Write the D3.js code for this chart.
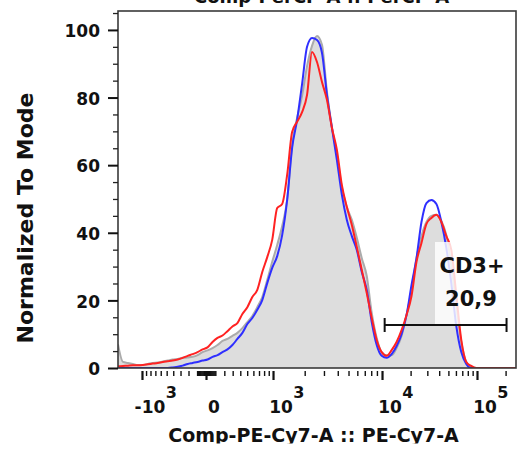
<!DOCTYPE html>
<html><head><meta charset="utf-8">
<script src="https://cdn.jsdelivr.net/npm/d3@7"></script>
<style>
body{margin:0;background:#fff;}
svg{display:block;}
text{font-family:"DejaVu Sans",sans-serif;font-weight:bold;fill:#111;}
</style>
</head><body><svg id="c" width="522" height="452"></svg>
<script>
// display channels (uniform histogram bins in logicle display space)
const channels = d3.range(0, 81);
const grayValues = [7,1.8,1.5,1.2,0.9,0.9,1.2,1.5,1.6,1.9,2.2,2.5,2.7,3.0,3.1,3.3,3.8,4.7,5.2,5.9,
  6.8,8.0,8.6,9.5,10.4,11.8,13.6,15.4,18,21,26,31.4,36.4,42,49.7,66,74,80.5,89.3,95.3,
  98.2,95.6,81.7,71.3,63,53.3,47.6,43.8,38.5,32.5,27.2,16.3,8.9,4.7,3.8,3.8,5.9,9.5,15.7,23.1,
  32.5,39,43.2,45,45.3,43.5,39.3,30.5,18.6,7.7,1.8,0.3,0,0,0,0,0,0,0,0,0];
const blueValues = [0,0,0,0,0,0,0,0,0,0,0,0.15,0.4,0.7,1.2,1.5,1.8,2.2,2.5,3.3,
  3.8,4.7,5.5,6.8,8.6,10.4,13,14.8,17.2,20.1,25.1,29.6,33.1,39.3,49.7,65.1,73.4,84,95,97.6,
  97,93.2,80.8,71,61.5,51.2,43.8,39,34.9,28.4,23.1,13.6,6.8,3.6,3.0,4.1,6.5,10,15.7,24.6,
  32.5,43.2,48.8,49.7,48.5,43.2,35.5,25,12.4,4.7,1.2,0,0,0,0,0,0,0,0,0,0];
const redValues = [0.5,0.6,0.7,0.8,0.8,0.9,1.1,1.3,1.5,1.8,2.0,2.2,2.5,3.0,3.6,4.1,4.7,5.5,6.1,7.7,
  8.9,9.6,10.9,12.3,13.3,16.0,18.0,21.0,23.1,28.4,32.8,37.9,47.3,48.5,57.1,69.8,72.8,75.7,80.8,93.5,
  90.5,84.6,79.3,71,64.5,54.1,47.6,42.3,35.8,29,22.2,14.8,8.3,4.7,3.6,5.3,7.7,11.2,15.7,21.3,
  31.4,37,42.6,44.4,45.3,43.2,39,34.9,21.6,8.3,1.8,0.6,0,0,0,0,0,0,0,0,0];

const yMajorTicks = [0,20,40,60,80,100];
const yMinorTicks = [5,10,15,25,30,35,45,50,55,65,70,75,85,90,95,105];
const xLabelValues = [-1000, 0, 1000, 10000, 100000];
const xLabelBase = ["-10","0","10","10","10"];
const xLabelSup = ["3","","3","4","5"];
// logicle calibration: anchor values and their display channel
const anchorValues = [-1000, 0, 1000, 10000, 100000];
const anchorChannels = [4.82, 17.69, 31.16, 53.07, 72.16];
const gateName = "CD3+";
const gateValue = "20,9";
const gateRangeChannels = [53.6, 78.1];

const svg = d3.select("#c");
const x = d3.scaleLinear().domain([0, 80]).range([118, 516]);
const y = d3.scaleLinear().domain([0, 105.6]).range([368, 11]);
const T = v => Math.asinh(v / 483) / Math.LN10;
const xAxisScale = d3.scaleLinear().domain(anchorValues.map(T)).range(anchorChannels.map(c => x(c)));

svg.append("defs").append("clipPath").attr("id","pc")
  .append("rect").attr("x",118).attr("y",11).attr("width",398).attr("height",357);

const plot = svg.append("g").attr("clip-path","url(#pc)");
const area = d3.area().x((d,i)=>x(channels[i])).y0(y(0)).y1(d=>y(d)).curve(d3.curveMonotoneX);
const line = d3.line().x((d,i)=>x(channels[i])).y(d=>y(d)).curve(d3.curveMonotoneX);

plot.append("path").attr("d", area(grayValues)).attr("fill","#dddddd");
plot.append("path").attr("d", line(grayValues)).attr("fill","none").attr("stroke","#ababab").attr("stroke-width",2);
plot.append("path").attr("d", line(blueValues)).attr("fill","none").attr("stroke","#2f2fff").attr("stroke-width",2);
plot.append("path").attr("d", line(redValues)).attr("fill","none").attr("stroke","#ff2222").attr("stroke-width",2);

// label box (semi-transparent)
svg.append("rect").attr("x",435).attr("y",242).attr("width",73).attr("height",83)
  .attr("fill","#fff").attr("opacity",0.82);

// frame
svg.append("rect").attr("x",118).attr("y",11).attr("width",398).attr("height",357)
  .attr("fill","none").attr("stroke","#3a3a3a").attr("stroke-width",1.6);

// gate
const gy = 325;
const gate = svg.append("g").attr("stroke","#111").attr("stroke-width",2);
gate.append("line").attr("x1",x(gateRangeChannels[0])).attr("x2",x(gateRangeChannels[1])).attr("y1",gy).attr("y2",gy);
gateRangeChannels.forEach(c=>gate.append("line").attr("x1",x(c)).attr("x2",x(c)).attr("y1",gy-7).attr("y2",gy+7));
const gcx = (x(gateRangeChannels[0])+x(gateRangeChannels[1]))/2 + 26;
svg.append("text").attr("x",472).attr("y",273).attr("text-anchor","middle").attr("font-size",21).text(gateName);
svg.append("text").attr("x",471).attr("y",306).attr("text-anchor","middle").attr("font-size",21).text(gateValue);

// Y axis
const yAxisMaj = d3.axisLeft(y).tickValues(yMajorTicks).tickSize(10).tickPadding(8);
const ya = svg.append("g").attr("transform","translate(118,0)").call(yAxisMaj);
ya.select(".domain").remove();
ya.selectAll("line").attr("stroke","#111").attr("stroke-width",2);
ya.selectAll("text").attr("font-size",17).attr("font-family","DejaVu Sans").attr("font-weight","bold").attr("dy","0.4em").attr("fill","#111");
const ym = svg.append("g").attr("transform","translate(118,0)").call(d3.axisLeft(y).tickValues(yMinorTicks).tickSize(5).tickFormat(""));
ym.select(".domain").remove();
ym.selectAll("line").attr("stroke","#222").attr("stroke-width",1.3);

// X axis ticks
const majorX = anchorValues.slice();
const minorX = [];
[1000,10000,100000].forEach(d=>{ for(let k=2;k<=9;k++){ minorX.push(k*d); minorX.push(-k*d);} });
for(let k=1;k<=9;k++){ minorX.push(k*100, -k*100, k*10, -k*10); }
const inRange = v => { const p = xAxisScale(T(v)); return p>=118 && p<=516; };
const xa = svg.append("g").attr("transform","translate(0,371)")
  .call(d3.axisBottom(xAxisScale).tickValues(majorX.filter(inRange).map(T)).tickSize(9).tickFormat(""));
xa.select(".domain").remove();
xa.selectAll("line").attr("stroke","#111").attr("stroke-width",2.2);
const xm = svg.append("g").attr("transform","translate(0,371)")
  .call(d3.axisBottom(xAxisScale).tickValues(minorX.filter(inRange).map(T)).tickSize(5).tickFormat(""));
xm.select(".domain").remove();
xm.selectAll("line").attr("stroke","#111").attr("stroke-width",1.4);

// X tick labels with superscripts
xLabelValues.forEach((v,i)=>{
  const cx = xAxisScale(T(v)) + 8;
  const b = svg.append("text").attr("x",cx).attr("y",413).attr("text-anchor","middle").attr("font-size",17).text(xLabelBase[i]);
  const w = b.node().getComputedTextLength();
  if (xLabelSup[i]) {
    svg.append("text").attr("x",cx + w/2 + 0.5).attr("y",398).attr("font-size",16).text(xLabelSup[i]);
  }
});

// titles
svg.append("text").attr("x",321.5).attr("y",3).attr("text-anchor","middle").attr("font-size",18).text("Comp-PerCP-A :: PerCP-A");
svg.append("text").attr("x",313.5).attr("y",442).attr("text-anchor","middle").attr("font-size",19).text("Comp-PE-Cy7-A :: PE-Cy7-A");
svg.append("text").attr("transform","translate(33,218) rotate(-90)").attr("text-anchor","middle").attr("font-size",22).text("Normalized To Mode");
// bottom crop as in reference
svg.append("rect").attr("x",0).attr("y",443.5).attr("width",522).attr("height",9).attr("fill","#fff");
</script>
</body></html>
